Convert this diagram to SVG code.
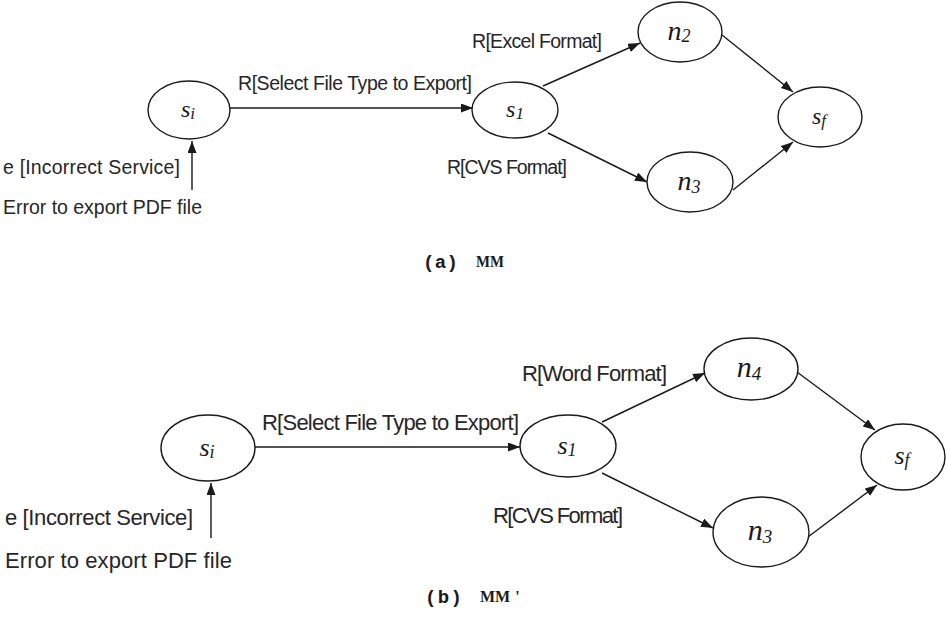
<svg xmlns="http://www.w3.org/2000/svg" width="946" height="622" viewBox="0 0 946 622">
  <style>
    .node { fill: #ffffff; stroke: #1a1a1a; stroke-width: 1.4; }
    .edge { fill: none; stroke: #1a1a1a; stroke-width: 1.4; marker-end: url(#arrow); }
    .lbl-a { font-family: "Liberation Sans", Arial, sans-serif; font-size: 19.5px; fill: #262626; }
    .lbl-b { font-family: "Liberation Sans", Arial, sans-serif; font-size: 22px; fill: #262626; }
    .var { font-family: "Liberation Serif", "Times New Roman", serif; font-style: italic; fill: #1a1a1a; }
    .cap { font-family: "Liberation Mono", "Courier New", monospace; font-weight: bold; font-size: 19px; fill: #1a1a1a; }
    .cap-name { font-family: "Liberation Serif", "Times New Roman", serif; font-weight: bold; font-size: 16px; fill: #1a1a1a; }
  </style>
  <defs>
    <marker id="arrow" markerUnits="userSpaceOnUse" markerWidth="13" markerHeight="10" refX="12" refY="4.5" orient="auto">
      <path d="M0,0 L12,4.5 L0,9 z" fill="#1a1a1a"/>
    </marker>
  </defs>
  <rect width="946" height="622" fill="#ffffff"/>

  <!-- (a) MM -->
  <g id="edges-a">
    <line class="edge" x1="230" y1="108" x2="473" y2="108"/>
    <line class="edge" x1="192" y1="190" x2="192" y2="141"/>
    <line class="edge" x1="543" y1="86" x2="640" y2="43"/>
    <line class="edge" x1="548" y1="133" x2="647" y2="182"/>
    <line class="edge" x1="722" y1="35" x2="793" y2="92"/>
    <line class="edge" x1="733" y1="190" x2="793" y2="142"/>
  </g>
  <g id="a-si">
    <ellipse class="node" cx="189" cy="110" rx="41" ry="29"/>
    <text class="var" x="188" y="117" font-size="24" text-anchor="middle">s<tspan font-size="17" dy="2">i</tspan></text>
  </g>
  <g id="a-s1">
    <ellipse class="node" cx="515" cy="110" rx="43" ry="28"/>
    <text class="var" x="515" y="117" font-size="24" text-anchor="middle">s<tspan font-size="17" dy="2">1</tspan></text>
  </g>
  <g id="a-n2">
    <ellipse class="node" cx="680" cy="32" rx="42" ry="30"/>
    <text class="var" x="679" y="40" font-size="28" text-anchor="middle">n<tspan font-size="18" dy="2">2</tspan></text>
  </g>
  <g id="a-n3">
    <ellipse class="node" cx="690" cy="182" rx="43" ry="30"/>
    <text class="var" x="689" y="190" font-size="28" text-anchor="middle">n<tspan font-size="18" dy="3">3</tspan></text>
  </g>
  <g id="a-sf">
    <ellipse class="node" cx="820" cy="117" rx="42" ry="30"/>
    <text class="var" x="819" y="124" font-size="24" text-anchor="middle">s<tspan font-size="17" dy="2">f</tspan></text>
  </g>
  <g id="a-labels">
    <text class="lbl-a" x="238" y="90" textLength="234">R[Select File Type to Export]</text>
    <text class="lbl-a" x="472" y="48" textLength="130">R[Excel Format]</text>
    <text class="lbl-a" x="447" y="174" textLength="120">R[CVS Format]</text>
    <text class="lbl-a" x="3" y="174" textLength="177">e [Incorrect Service]</text>
    <text class="lbl-a" x="3" y="214" textLength="199">Error to export PDF file</text>
  </g>
  <g id="caption-a">
    <text class="cap" x="423" y="268" textLength="35">(a)</text>
    <text class="cap-name" x="476" y="267" textLength="28" lengthAdjust="spacingAndGlyphs">MM</text>
  </g>

  <!-- (b) MM' -->
  <g id="edges-b">
    <line class="edge" x1="255" y1="447" x2="520" y2="447"/>
    <line class="edge" x1="211" y1="538" x2="211" y2="483"/>
    <line class="edge" x1="602" y1="422" x2="705" y2="373"/>
    <line class="edge" x1="602" y1="473" x2="713" y2="528"/>
    <line class="edge" x1="797" y1="372" x2="875" y2="430"/>
    <line class="edge" x1="808" y1="537" x2="877" y2="485"/>
  </g>
  <g id="b-si">
    <ellipse class="node" cx="208" cy="448" rx="47" ry="33"/>
    <text class="var" x="207" y="456" font-size="26" text-anchor="middle">s<tspan font-size="18" dy="2">i</tspan></text>
  </g>
  <g id="b-s1">
    <ellipse class="node" cx="568" cy="446" rx="48" ry="31"/>
    <text class="var" x="567" y="454" font-size="26" text-anchor="middle">s<tspan font-size="18" dy="2">1</tspan></text>
  </g>
  <g id="b-n4">
    <ellipse class="node" cx="751" cy="369" rx="47" ry="31"/>
    <text class="var" x="749" y="377" font-size="30" text-anchor="middle">n<tspan font-size="19" dy="3">4</tspan></text>
  </g>
  <g id="b-n3">
    <ellipse class="node" cx="761" cy="532" rx="48" ry="35"/>
    <text class="var" x="760" y="540" font-size="30" text-anchor="middle">n<tspan font-size="19" dy="3">3</tspan></text>
  </g>
  <g id="b-sf">
    <ellipse class="node" cx="903" cy="457" rx="42" ry="33"/>
    <text class="var" x="902" y="464" font-size="26" text-anchor="middle">s<tspan font-size="18" dy="2">f</tspan></text>
  </g>
  <g id="b-labels">
    <text class="lbl-b" x="262" y="430" textLength="257">R[Select File Type to Export]</text>
    <text class="lbl-b" x="522" y="381" textLength="145">R[Word Format]</text>
    <text class="lbl-b" x="493" y="523" textLength="130">R[CVS Format]</text>
    <text class="lbl-b" x="5" y="525" textLength="188">e [Incorrect Service]</text>
    <text class="lbl-b" x="5" y="568" textLength="227">Error to export PDF file</text>
  </g>
  <g id="caption-b">
    <text class="cap" x="425" y="603" textLength="37">(b)</text>
    <text class="cap-name" x="480" y="602">MM<tspan dx="5">'</tspan></text>
  </g>
</svg>
